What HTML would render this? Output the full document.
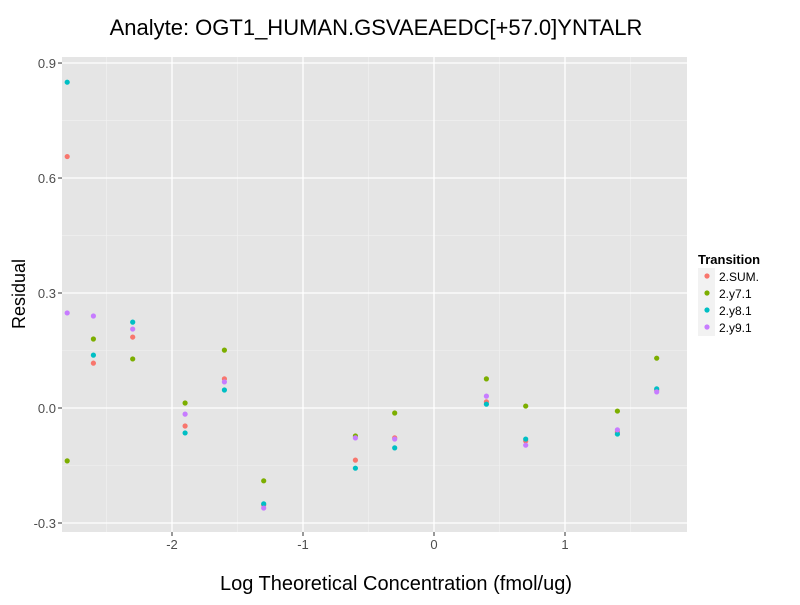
<!DOCTYPE html>
<html><head><meta charset="utf-8"><style>
body{margin:0;background:#fff;}
svg text{font-family:"Liberation Sans",Arial,sans-serif;}
</style></head><body>
<svg id="chart" width="800" height="600" xmlns="http://www.w3.org/2000/svg">
<rect width="800" height="600" fill="#fff"/>
<text x="376" y="35" font-size="22" text-anchor="middle" fill="#000">Analyte: OGT1_HUMAN.GSVAEAEDC[+57.0]YNTALR</text>
<rect x="62" y="57" width="625" height="475" fill="#E5E5E5"/>
<g id="grid"></g>
<g id="axes"></g>
<g id="points"></g>
<text x="396" y="590" font-size="20" text-anchor="middle" fill="#000">Log Theoretical Concentration (fmol/ug)</text>
<text transform="translate(25,294) rotate(-90)" font-size="18" text-anchor="middle" fill="#000">Residual</text>
<g>
<text x="698" y="264" font-size="13" font-weight="bold" fill="#000">Transition</text>
<g id="legend"></g>
</g>
</svg>
<script>
const xVals=[-2.8,-2.6,-2.3,-1.9,-1.6,-1.3,-0.6,-0.3,0.4,0.7,1.4,1.7];
const seriesNames=["2.SUM.","2.y7.1","2.y8.1","2.y9.1"];
const sumVals=[0.656,0.117,0.185,-0.047,0.076,-0.253,-0.136,-0.078,0.016,-0.086,-0.063,0.047];
const y7Vals=[-0.138,0.18,0.128,0.013,0.151,-0.19,-0.073,-0.013,0.076,0.005,-0.008,0.13];
const y8Vals=[0.85,0.138,0.224,-0.065,0.047,-0.25,-0.157,-0.104,0.01,-0.081,-0.068,0.05];
const y9Vals=[0.248,0.24,0.206,-0.016,0.068,-0.261,-0.078,-0.081,0.031,-0.097,-0.057,0.042];
const xTicks=[-2,-1,0,1];
const yTicks=[-0.3,0.0,0.3,0.6,0.9];
const yTickLabels=["-0.3","0.0","0.3","0.6","0.9"];
const xMinor=[-2.5,-1.5,-0.5,0.5,1.5];
const yMinor=[-0.15,0.15,0.45,0.75];
const colors=["#F8766D","#7CAE00","#00BFC4","#C77CFF"];
const NS="http://www.w3.org/2000/svg";
const X=v=>434+v*131, Y=v=>408-v*383.3;
const PL=62,PR=687,PT=57,PB=532;
function mk(tag,attrs,parent){const e=document.createElementNS(NS,tag);for(const k in attrs)e.setAttribute(k,attrs[k]);parent.appendChild(e);return e;}
const grid=document.getElementById('grid'),axes=document.getElementById('axes'),pts=document.getElementById('points'),leg=document.getElementById('legend');
xMinor.forEach(v=>{const l=mk('line',{x1:X(v),x2:X(v),y1:PT,y2:PB,stroke:'#F2F2F2','stroke-width':0.6},grid);

});
yMinor.forEach(v=>{const l=mk('line',{x1:PL,x2:PR,y1:Y(v),y2:Y(v),stroke:'#F2F2F2','stroke-width':0.6},grid);

});
xTicks.forEach(v=>{const l=mk('line',{x1:X(v),x2:X(v),y1:PT,y2:PB,stroke:'#fff','stroke-width':1.3},grid);


const t=mk('line',{x1:X(v),x2:X(v),y1:PB,y2:PB+4,stroke:'#333'},axes);


const tx=mk('text',{x:X(v),y:PB+17,'font-size':13,'text-anchor':'middle',fill:'#4D4D4D'},axes);tx.textContent=String(v);

});
yTicks.forEach((v,i)=>{const l=mk('line',{x1:PL,x2:PR,y1:Y(v),y2:Y(v),stroke:'#fff','stroke-width':1.3},grid);


const t=mk('line',{x1:PL-4,x2:PL,y1:Y(v),y2:Y(v),stroke:'#333'},axes);


const tx=mk('text',{x:PL-6,y:Y(v)+5,'font-size':13,'text-anchor':'end',fill:'#4D4D4D'},axes);tx.textContent=yTickLabels[i];

});
[sumVals,y7Vals,y8Vals,y9Vals].forEach((arr,s)=>{arr.forEach((v,i)=>{const c=mk('circle',{cx:X(xVals[i]),cy:Y(v),r:2.6,fill:colors[s]},pts);

});
const y=276+s*17;
const bg=mk('rect',{x:698,y:y-8,width:17,height:17,fill:'#F2F2F2'},leg);


const c=mk('circle',{cx:707,cy:y,r:2.6,fill:colors[s]},leg);


const t=mk('text',{x:719,y:y+5,'font-size':12,fill:'#000'},leg);t.textContent=seriesNames[s];

});
</script>
</body></html>
